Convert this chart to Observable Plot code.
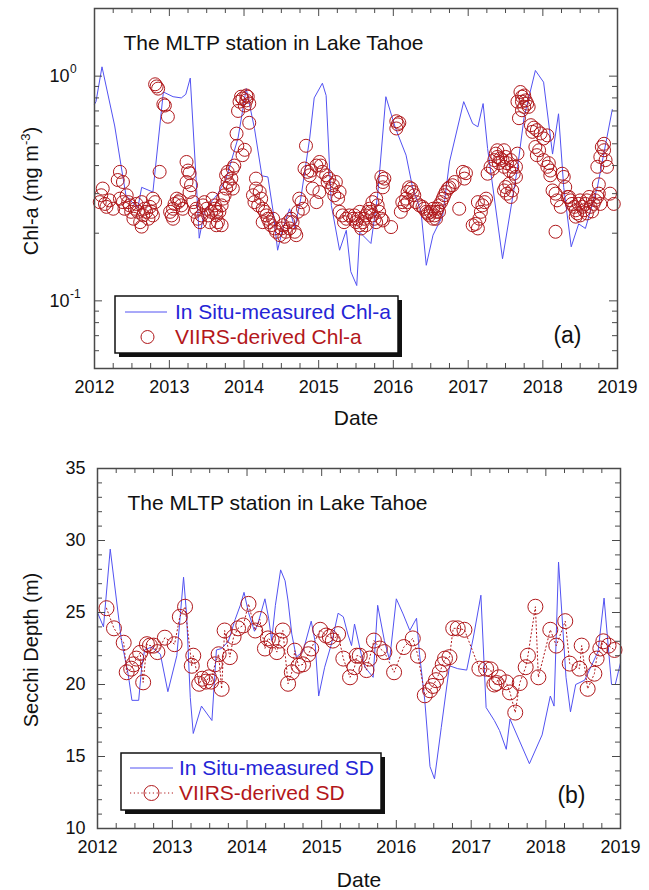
<!DOCTYPE html>
<html><head><meta charset="utf-8">
<script src="https://cdn.jsdelivr.net/npm/d3@7"></script>
<script src="https://cdn.jsdelivr.net/npm/@observablehq/plot@0.6"></script>
<style>
body{margin:0;background:#fff;}
#wrap{width:649px;}
#wrap svg{display:block;}
</style></head><body><div id="wrap"></div>
<script>
// ---------- DATA (decimal year, value) ----------
const chlInSitu = [[2012.0,0.75],[2012.02,0.77],[2012.10,1.10],[2012.27,0.60],[2012.36,0.39],[2012.42,0.295],[2012.54,0.266],[2012.58,0.26],[2012.63,0.32],[2012.78,0.305],[2012.92,0.85],[2013.05,0.81],[2013.16,0.80],[2013.22,0.83],[2013.28,0.98],[2013.36,0.34],[2013.40,0.19],[2013.47,0.25],[2013.58,0.28],[2013.65,0.30],[2013.76,0.35],[2013.92,0.53],[2014.03,0.88],[2014.14,0.585],[2014.24,0.36],[2014.32,0.356],[2014.39,0.25],[2014.45,0.168],[2014.52,0.21],[2014.61,0.257],[2014.68,0.21],[2014.76,0.285],[2014.88,0.53],[2014.94,0.80],[2015.05,0.93],[2015.10,0.82],[2015.17,0.266],[2015.28,0.168],[2015.37,0.206],[2015.43,0.135],[2015.51,0.117],[2015.55,0.202],[2015.70,0.18],[2015.79,0.295],[2015.90,0.81],[2016.03,0.585],[2016.17,0.445],[2016.26,0.316],[2016.37,0.25],[2016.44,0.144],[2016.53,0.196],[2016.66,0.24],[2016.75,0.415],[2016.94,0.77],[2017.06,0.615],[2017.13,0.595],[2017.20,0.755],[2017.26,0.476],[2017.46,0.154],[2017.66,0.39],[2017.75,0.66],[2017.90,1.06],[2018.01,0.94],[2018.13,0.45],[2018.21,0.68],[2018.28,0.32],[2018.38,0.174],[2018.48,0.22],[2018.57,0.21],[2018.73,0.32],[2018.93,0.71]];

const chlViirs2012 = [[2012.11,0.316],[2012.09,0.295],[2012.07,0.275],[2012.14,0.27],[2012.20,0.28],[2012.25,0.257],[2012.16,0.262],[2012.34,0.375],[2012.31,0.345],[2012.38,0.338],[2012.34,0.285],[2012.38,0.275],[2012.43,0.295],[2012.45,0.275],[2012.40,0.257],[2012.47,0.266],[2012.49,0.249],[2012.52,0.232],[2012.54,0.257],[2012.56,0.27],[2012.58,0.249],[2012.61,0.224],[2012.63,0.214],[2012.65,0.24],[2012.67,0.257],[2012.69,0.249],[2012.72,0.232],[2012.74,0.262],[2012.76,0.249],[2012.78,0.285],[2012.78,0.24],[2012.81,0.275],[2012.63,0.275],[2012.83,0.90],[2012.85,0.88],[2012.81,0.92],[2012.92,0.75],[2012.94,0.74],[2012.98,0.66],[2012.87,0.375]];
const chlViirs2013 = [[2013.01,0.249],[2013.03,0.24],[2013.05,0.257],[2013.07,0.27],[2013.10,0.285],[2013.12,0.275],[2013.14,0.28],[2013.16,0.266],[2013.18,0.257],[2013.05,0.232],[2013.23,0.415],[2013.25,0.38],[2013.27,0.37],[2013.23,0.338],[2013.29,0.327],[2013.27,0.305],[2013.32,0.275],[2013.34,0.249],[2013.36,0.257],[2013.38,0.232],[2013.41,0.224],[2013.43,0.24],[2013.45,0.266],[2013.47,0.275],[2013.50,0.257],[2013.52,0.24],[2013.54,0.224],[2013.56,0.249],[2013.58,0.285],[2013.61,0.266],[2013.63,0.249],[2013.61,0.257],[2013.63,0.24],[2013.65,0.224],[2013.67,0.249],[2013.70,0.266],[2013.72,0.285],[2013.74,0.295],[2013.76,0.316],[2013.78,0.338],[2013.81,0.327],[2013.76,0.362],[2013.78,0.375],[2013.83,0.35],[2013.85,0.316],[2013.70,0.217],[2013.63,0.217],[2013.85,0.388],[2013.87,0.40],[2013.90,0.555],[2013.91,0.49],[2013.98,0.445],[2013.92,0.70],[2013.94,0.77],[2013.96,0.81],[2013.98,0.795]];
const chlViirs2014 = [[2014.01,0.47],[2014.01,0.74],[2014.03,0.78],[2014.05,0.81],[2014.07,0.755],[2014.03,0.82],[2014.07,0.62],[2014.16,0.35],[2014.16,0.316],[2014.12,0.295],[2014.14,0.275],[2014.19,0.266],[2014.21,0.305],[2014.23,0.285],[2014.25,0.257],[2014.28,0.249],[2014.30,0.24],[2014.25,0.224],[2014.32,0.232],[2014.34,0.224],[2014.36,0.217],[2014.39,0.232],[2014.41,0.21],[2014.43,0.203],[2014.48,0.196],[2014.50,0.21],[2014.52,0.217],[2014.54,0.193],[2014.56,0.203],[2014.59,0.224],[2014.61,0.21],[2014.65,0.224],[2014.68,0.203],[2014.70,0.196],[2014.63,0.232],[2014.74,0.285],[2014.77,0.275],[2014.79,0.257],[2014.72,0.249],[2014.83,0.49],[2014.81,0.388],[2014.85,0.375],[2014.90,0.38],[2014.88,0.362],[2014.97,0.40],[2014.97,0.275],[2014.92,0.316]];
const chlViirs2015 = [[2015.01,0.415],[2015.03,0.40],[2015.05,0.375],[2015.01,0.305],[2015.10,0.362],[2015.12,0.338],[2015.14,0.35],[2015.17,0.316],[2015.19,0.327],[2015.21,0.295],[2015.23,0.338],[2015.26,0.285],[2015.28,0.305],[2015.28,0.249],[2015.32,0.24],[2015.34,0.224],[2015.37,0.232],[2015.41,0.24],[2015.46,0.232],[2015.50,0.224],[2015.48,0.24],[2015.52,0.232],[2015.55,0.217],[2015.57,0.21],[2015.59,0.224],[2015.61,0.232],[2015.63,0.24],[2015.66,0.249],[2015.68,0.257],[2015.70,0.249],[2015.72,0.24],[2015.75,0.232],[2015.77,0.224],[2015.63,0.217],[2015.55,0.249],[2015.72,0.275],[2015.79,0.266],[2015.77,0.285],[2015.81,0.249],[2015.84,0.232],[2015.86,0.228],[2015.97,0.213],[2015.84,0.356],[2015.86,0.338],[2015.88,0.35],[2015.86,0.32]];
const chlViirs2016 = [[2016.04,0.63],[2016.06,0.61],[2016.08,0.62],[2016.04,0.585],[2016.10,0.249],[2016.15,0.266],[2016.17,0.285],[2016.19,0.305],[2016.21,0.32],[2016.24,0.316],[2016.26,0.305],[2016.28,0.295],[2016.12,0.275],[2016.19,0.275],[2016.30,0.275],[2016.35,0.266],[2016.39,0.262],[2016.41,0.257],[2016.44,0.249],[2016.46,0.245],[2016.48,0.24],[2016.50,0.249],[2016.53,0.232],[2016.55,0.24],[2016.57,0.249],[2016.59,0.257],[2016.61,0.266],[2016.64,0.275],[2016.66,0.285],[2016.68,0.295],[2016.70,0.305],[2016.73,0.316],[2016.75,0.32],[2016.79,0.327],[2016.82,0.338],[2016.61,0.249],[2016.57,0.232],[2016.53,0.257],[2016.88,0.257],[2016.93,0.375],[2016.97,0.37],[2016.95,0.35]];
const chlViirs2017 = [[2017.06,0.217],[2017.10,0.22],[2017.13,0.21],[2017.15,0.232],[2017.17,0.249],[2017.19,0.266],[2017.22,0.275],[2017.24,0.285],[2017.13,0.275],[2017.26,0.368],[2017.30,0.395],[2017.33,0.388],[2017.35,0.423],[2017.37,0.452],[2017.39,0.437],[2017.41,0.41],[2017.43,0.43],[2017.46,0.423],[2017.48,0.395],[2017.50,0.437],[2017.52,0.41],[2017.55,0.38],[2017.57,0.423],[2017.59,0.395],[2017.61,0.368],[2017.64,0.395],[2017.66,0.452],[2017.64,0.356],[2017.48,0.468],[2017.39,0.468],[2017.50,0.321],[2017.52,0.30],[2017.57,0.29],[2017.59,0.31],[2017.55,0.332],[2017.48,0.31],[2017.70,0.85],[2017.72,0.81],[2017.75,0.82],[2017.77,0.78],[2017.79,0.755],[2017.81,0.73],[2017.75,0.73],[2017.72,0.705],[2017.68,0.65],[2017.66,0.77],[2017.72,0.77],[2017.84,0.605],[2017.88,0.59],[2017.92,0.575],[2017.97,0.556],[2017.86,0.565],[2017.90,0.484],[2017.95,0.468],[2017.92,0.445]];
const chlViirs2018 = [[2018.01,0.528],[2018.06,0.545],[2018.01,0.423],[2018.08,0.41],[2018.06,0.395],[2018.10,0.38],[2018.10,0.362],[2018.13,0.31],[2018.17,0.30],[2018.19,0.28],[2018.24,0.262],[2018.26,0.368],[2018.28,0.356],[2018.30,0.321],[2018.33,0.29],[2018.17,0.203],[2018.35,0.29],[2018.37,0.28],[2018.39,0.27],[2018.42,0.262],[2018.44,0.253],[2018.46,0.245],[2018.48,0.27],[2018.50,0.28],[2018.53,0.262],[2018.55,0.253],[2018.57,0.27],[2018.59,0.28],[2018.62,0.29],[2018.64,0.262],[2018.66,0.25],[2018.68,0.27],[2018.70,0.28],[2018.73,0.29],[2018.75,0.30],[2018.77,0.27],[2018.44,0.237],[2018.50,0.24],[2018.59,0.245],[2018.75,0.33],[2018.73,0.395],[2018.77,0.437],[2018.79,0.484],[2018.82,0.468],[2018.84,0.423],[2018.86,0.395],[2018.90,0.30],[2018.95,0.27],[2018.82,0.50]];

const sdInSitu = [[2012.0,25.0],[2012.08,24.0],[2012.17,29.4],[2012.32,23.05],[2012.41,20.7],[2012.46,18.9],[2012.55,18.9],[2012.59,21.2],[2012.63,22.4],[2012.72,22.6],[2012.84,22.1],[2012.94,19.5],[2013.06,22.0],[2013.15,27.45],[2013.19,24.9],[2013.24,19.1],[2013.28,16.6],[2013.39,18.5],[2013.53,17.5],[2013.59,22.4],[2013.66,22.5],[2013.75,23.0],[2013.84,24.5],[2013.91,25.5],[2013.96,26.4],[2014.02,25.0],[2014.10,23.7],[2014.15,24.3],[2014.24,25.95],[2014.29,24.6],[2014.33,23.05],[2014.38,25.5],[2014.45,27.96],[2014.51,27.2],[2014.55,25.8],[2014.60,23.5],[2014.66,21.9],[2014.75,22.3],[2014.86,24.4],[2014.91,23.05],[2014.96,19.2],[2015.04,21.2],[2015.13,22.8],[2015.22,24.95],[2015.29,24.7],[2015.35,23.5],[2015.40,22.7],[2015.44,24.2],[2015.53,22.1],[2015.58,21.2],[2015.69,20.5],[2015.75,25.5],[2015.84,23.05],[2015.91,21.7],[2016.00,25.95],[2016.09,24.9],[2016.18,23.75],[2016.27,24.6],[2016.31,22.1],[2016.38,18.9],[2016.45,14.3],[2016.51,13.45],[2016.60,17.0],[2016.71,21.3],[2016.82,21.1],[2016.94,21.0],[2017.03,23.3],[2017.13,26.2],[2017.20,18.4],[2017.31,17.5],[2017.38,16.8],[2017.47,15.5],[2017.52,17.6],[2017.78,14.5],[2017.95,16.5],[2018.06,19.2],[2018.11,18.5],[2018.17,28.5],[2018.27,20.5],[2018.33,18.1],[2018.40,20.0],[2018.52,20.3],[2018.70,22.3],[2018.78,26.0],[2018.88,20.0],[2018.93,20.0],[2019.0,21.5]];

const sdViirs = [[2012.12,25.3],[2012.22,23.9],[2012.35,22.9],[2012.39,20.85],[2012.45,21.1],[2012.48,21.4],[2012.52,21.8],[2012.57,22.2],[2012.61,20.15],[2012.66,22.8],[2012.70,22.7],[2012.75,22.7],[2012.80,22.25],[2012.90,23.25],[2013.03,22.8],[2013.10,24.7],[2013.17,25.4],[2013.26,21.3],[2013.28,22.0],[2013.36,20.05],[2013.40,20.4],[2013.45,20.2],[2013.49,20.5],[2013.52,20.2],[2013.57,21.4],[2013.62,22.1],[2013.66,19.7],[2013.70,23.75],[2013.77,21.9],[2013.82,23.3],[2013.88,23.9],[2013.95,24.1],[2014.02,25.6],[2014.11,23.75],[2014.17,24.55],[2014.24,22.5],[2014.28,23.2],[2014.33,23.05],[2014.40,22.25],[2014.44,23.05],[2014.48,23.75],[2014.55,20.05],[2014.60,20.85],[2014.64,22.35],[2014.69,21.3],[2014.75,21.4],[2014.82,22.1],[2014.86,22.5],[2014.98,23.8],[2015.06,23.4],[2015.11,23.3],[2015.15,23.05],[2015.22,23.5],[2015.29,21.8],[2015.38,20.5],[2015.44,21.2],[2015.47,22.0],[2015.51,22.0],[2015.60,21.0],[2015.64,21.8],[2015.70,23.05],[2015.78,22.5],[2015.84,22.25],[2015.97,20.85],[2016.10,22.6],[2016.22,23.2],[2016.29,22.0],[2016.38,19.25],[2016.45,19.6],[2016.49,19.9],[2016.53,20.3],[2016.58,20.85],[2016.62,21.4],[2016.65,21.8],[2016.71,21.9],[2016.76,23.9],[2016.82,23.9],[2016.91,23.8],[2017.11,21.1],[2017.20,21.1],[2017.26,21.05],[2017.31,20.0],[2017.34,20.1],[2017.37,20.5],[2017.47,20.15],[2017.52,19.45],[2017.59,18.05],[2017.65,20.1],[2017.73,21.2],[2017.76,22.0],[2017.86,25.4],[2017.90,20.5],[2018.06,23.8],[2018.14,22.7],[2018.26,24.4],[2018.32,21.45],[2018.45,21.1],[2018.48,22.7],[2018.56,19.7],[2018.65,20.75],[2018.68,21.8],[2018.73,22.5],[2018.77,23.0],[2018.84,22.7],[2018.92,22.4]];

const yearTicks = [2012,2013,2014,2015,2016,2017,2018,2019];
const quarterTicks = [2012.25,2012.5,2012.75,2013.25,2013.5,2013.75,2014.25,2014.5,2014.75,2015.25,2015.5,2015.75,2016.25,2016.5,2016.75,2017.25,2017.5,2017.75,2018.25,2018.5,2018.75];
const chlMajor = [0.1, 1];
const chlMinor = [0.06,0.07,0.08,0.09,0.2,0.3,0.4,0.5,0.6,0.7,0.8,0.9,2];
const sdMajor = [10,15,20,25,30,35];
const sdMinor = [11,12,13,14,16,17,18,19,21,22,23,24,26,27,28,29,31,32,33,34];

const chlTitle = "The MLTP station in Lake Tahoe";
const chlLegend = ["In Situ-measured Chl-a", "VIIRS-derived Chl-a"];
const sdLegend = ["In Situ-measured SD", "VIIRS-derived SD"];

// ---------- STYLE ----------
const FONT = "'Liberation Sans', Arial, Helvetica, sans-serif";
const BLUE = "#5252f2";
const RED = "#b0181b";
const BLUE_TXT = "#2424d6";
const RED_TXT = "#b3171b";
const AX = "#4a4a4a";

function decYear(y){const yr=Math.floor(y);const a=Date.UTC(yr,0,1),b=Date.UTC(yr+1,0,1);return new Date(a+(y-yr)*(b-a));}
const X = d => decYear(d[0]);
const Y = d => d[1];

function frameTicks(iw, ih, yMaj, yMin) {
  const M = 8, m = 5, s = {stroke: AX, strokeWidth: 1};
  return [
    Plot.ruleX(yearTicks, {x: decYear, insetTop: ih - M, ...s}),
    Plot.ruleX(yearTicks, {x: decYear, insetBottom: ih - M, ...s}),
    Plot.ruleX(quarterTicks, {x: decYear, insetTop: ih - m, ...s}),
    Plot.ruleX(quarterTicks, {x: decYear, insetBottom: ih - m, ...s}),
    Plot.ruleY(yMaj, {y: d => d, insetRight: iw - M, ...s}),
    Plot.ruleY(yMaj, {y: d => d, insetLeft: iw - M, ...s}),
    Plot.ruleY(yMin, {y: d => d, insetRight: iw - m, ...s}),
    Plot.ruleY(yMin, {y: d => d, insetLeft: iw - m, ...s})
  ];
}
const styleObj = {fontFamily: FONT, background: "#fff", color: "#111", overflow: "visible"};
const xDomain = [decYear(2012), decYear(2019)];

// ---------- PANEL (a) ----------
const topSvg = Plot.plot({
  width: 649, height: 430,
  marginTop: 8, marginBottom: 62, marginLeft: 94, marginRight: 32,
  style: styleObj,
  x: {type: "utc", domain: xDomain},
  y: {type: "log", domain: [0.05, 2], axis: null},
  marks: [
    Plot.line(chlInSitu, {x: X, y: Y, stroke: BLUE, strokeWidth: 1}),
    Plot.dot([...chlViirs2012, ...chlViirs2013, ...chlViirs2014, ...chlViirs2015, ...chlViirs2016, ...chlViirs2017, ...chlViirs2018],
      {x: X, y: Y, r: 6.5, stroke: RED, strokeWidth: 1, fill: "none"}),
    ...frameTicks(523, 360, chlMajor, chlMinor),
    Plot.frame({stroke: AX, strokeWidth: 1.5}),
    Plot.axisX(yearTicks.map(decYear), {tickSize: 0, tickPadding: 12, tickFormat: d => String(d.getUTCFullYear()), fontSize: 18, label: null}),
    Plot.text(chlMajor, {y: d => d, text: () => "10", frameAnchor: "left", dx: -25, textAnchor: "end", fontSize: 18}),
    Plot.text(chlMajor, {y: d => d, text: d => String(Math.round(Math.log10(d))), frameAnchor: "left", dx: -24.5, dy: -7, textAnchor: "start", fontSize: 12}),
    Plot.text([chlTitle], {text: d => d, frameAnchor: "top-left", dx: 29, dy: 35, textAnchor: "start", lineAnchor: "middle", fontSize: 21}),
    Plot.text(["(a)"], {text: d => d, frameAnchor: "bottom-right", dx: -36, dy: -33, textAnchor: "end", lineAnchor: "middle", fontSize: 23}),
    Plot.text(["Date"], {text: d => d, frameAnchor: "bottom", dy: 50, lineAnchor: "middle", fontSize: 21})
  ]
});

// ---------- PANEL (b) ----------
const sdViirsSorted = sdViirs.slice().sort((a, b) => a[0] - b[0]);
const botSvg = Plot.plot({
  width: 649, height: 460,
  marginTop: 38, marginBottom: 62, marginLeft: 97, marginRight: 29,
  style: styleObj,
  x: {type: "utc", domain: xDomain},
  y: {domain: [10, 35]},
  marks: [
    Plot.line(sdInSitu, {x: X, y: Y, stroke: BLUE, strokeWidth: 1}),
    Plot.line(sdViirsSorted, {x: X, y: Y, stroke: RED, strokeWidth: 1, strokeDasharray: "1.2,2.6"}),
    Plot.dot(sdViirsSorted, {x: X, y: Y, r: 7.5, stroke: RED, strokeWidth: 1, fill: "none"}),
    ...frameTicks(523, 360, sdMajor, sdMinor),
    Plot.frame({stroke: AX, strokeWidth: 1.5}),
    Plot.axisX(yearTicks.map(decYear), {tickSize: 0, tickPadding: 12, tickFormat: d => String(d.getUTCFullYear()), fontSize: 18, label: null}),
    Plot.axisY(sdMajor, {tickSize: 0, tickPadding: 12, fontSize: 18, label: null}),
    Plot.text([chlTitle], {text: d => d, frameAnchor: "top-left", dx: 30, dy: 35, textAnchor: "start", lineAnchor: "middle", fontSize: 21}),
    Plot.text(["(b)"], {text: d => d, frameAnchor: "bottom-right", dx: -35, dy: -33, textAnchor: "end", lineAnchor: "middle", fontSize: 23}),
    Plot.text(["Date"], {text: d => d, frameAnchor: "bottom", dy: 52, lineAnchor: "middle", fontSize: 21})
  ]
});

// ---------- y labels & legends ----------
function yLabel(svg, cx, cy, parts) {
  const t = d3.select(svg).append("text")
    .attr("transform", `translate(${cx},${cy}) rotate(-90)`)
    .attr("text-anchor", "middle").attr("font-size", 20).attr("fill", "#111")
    .attr("font-family", FONT).attr("dy", "0.35em");
  for (const p of parts) {
    const s = t.append("tspan").text(p.text);
    if (p.sup) s.attr("font-size", 13).attr("dy", -8);
    if (p.after) s.attr("dy", 8);
  }
}
yLabel(topSvg, 31, 191, [{text: "Chl-a (mg m"}, {text: "-3", sup: true}, {text: ")", after: true}]);
yLabel(botSvg, 31, 220, [{text: "Secchi Depth (m)"}]);

function legendBox(svg, x, y, w, h, rows) {
  const g = d3.select(svg).append("g").attr("font-family", FONT).attr("text-anchor", "start");
  g.append("rect").attr("x", x + 4).attr("y", y + 4).attr("width", w).attr("height", h).attr("fill", "#111");
  g.append("rect").attr("x", x).attr("y", y).attr("width", w).attr("height", h)
    .attr("fill", "#fff").attr("stroke", "#111").attr("stroke-width", 1.5);
  for (const r of rows) {
    if (r.line) g.append("line").attr("x1", r.line[0]).attr("x2", r.line[1]).attr("y1", r.y).attr("y2", r.y)
      .attr("stroke", r.stroke).attr("stroke-width", 1).attr("stroke-dasharray", r.dash || null);
    if (r.circle) g.append("circle").attr("cx", r.circle).attr("cy", r.y).attr("r", r.rad)
      .attr("fill", "none").attr("stroke", r.stroke).attr("stroke-width", 1);
    g.append("text").attr("x", r.tx).attr("y", r.y).attr("dy", "0.35em").attr("font-size", 21)
      .attr("text-anchor", "start").attr("fill", r.color).text(r.text);
  }
}
legendBox(topSvg, 115, 296, 283, 57, [
  {y: 312, line: [125, 167], stroke: BLUE, tx: 175, color: BLUE_TXT, text: chlLegend[0]},
  {y: 337, circle: 147.5, rad: 6.5, stroke: RED, tx: 175, color: RED_TXT, text: chlLegend[1]}
]);
legendBox(botSvg, 121, 323, 260, 57, [
  {y: 338, line: [130, 173], stroke: BLUE, tx: 179, color: BLUE_TXT, text: sdLegend[0]},
  {y: 363, line: [130, 173], dash: "1.2,2.6", circle: 151.5, rad: 7.5, stroke: RED, tx: 179, color: RED_TXT, text: sdLegend[1]}
]);

const wrap = document.getElementById("wrap");
wrap.appendChild(topSvg);
wrap.appendChild(botSvg);
</script></body></html>
